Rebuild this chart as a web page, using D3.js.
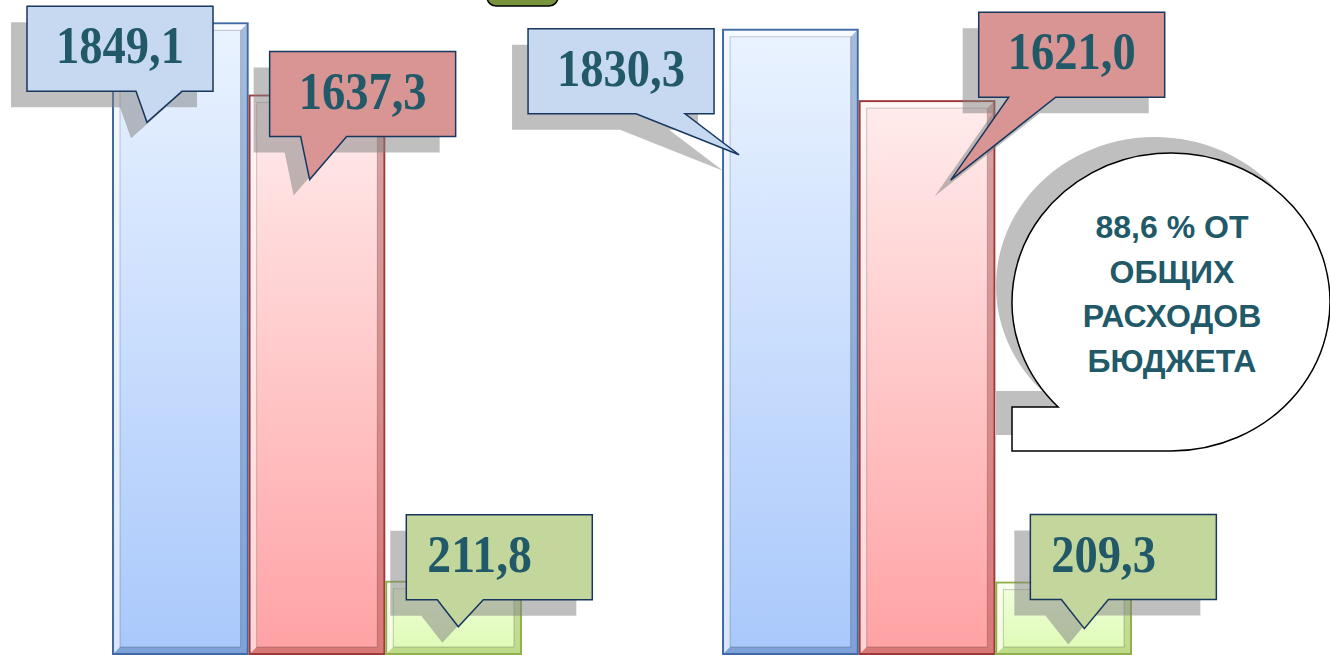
<!DOCTYPE html>
<html>
<head>
<meta charset="utf-8">
<script src="https://cdn.jsdelivr.net/npm/d3@7"></script>
<style>
  body { margin: 0; background: #fff; }
  svg { display: block; }
</style>
</head>
<body>
<div id="chart"></div>
<script>
// data
var groups = ["group1", "group2"];
var series = ["total", "social", "other"];
var totalVals = [1849.1, 1830.3];
var socialVals = [1637.3, 1621.0];
var otherVals = [211.8, 209.3];
var noteLines = ["88,6 % ОТ", "ОБЩИХ", "РАСХОДОВ", "БЮДЖЕТА"];

var W = 1330, H = 655;
var base = 654;

var svg = d3.select("#chart")
  .append("svg")
    .attr("width", W)
    .attr("height", H);

var rows = [];
groups.forEach(function(g, i) {
  rows.push({group: g, key: "total", value: totalVals[i]});
  rows.push({group: g, key: "social", value: socialVals[i]});
  rows.push({group: g, key: "other", value: otherVals[i]});
});

var x0 = d3.scaleBand()
  .domain(groups)
  .range([112, 1132])
  .paddingInner(0.328);

var x1 = d3.scaleBand()
  .domain(series)
  .range([0, x0.bandwidth()]);

var y = d3.scaleLinear()
  .domain([0, 1900])
  .range([base, 6]);

var colors = {
  total:  {top: "#eaf3ff", bot: "#a9c8fb", stroke: "#3f6aa6"},
  social: {top: "#ffecec", bot: "#ffa2a4", stroke: "#9e3a3a"},
  other:  {top: "#f2ffdc", bot: "#ddfab4", stroke: "#8fb04c"}
};

var defs = svg.append("defs");
series.forEach(function(s) {
  var gr = defs.append("linearGradient")
    .attr("id", "grad-" + s)
    .attr("x1", 0).attr("y1", 0).attr("x2", 0).attr("y2", 1);
  gr.append("stop").attr("offset", "0%").attr("stop-color", colors[s].top);
  gr.append("stop").attr("offset", "100%").attr("stop-color", colors[s].bot);
});

// bars
var bars = svg.append("g").selectAll("g")
  .data(rows)
  .enter()
  .append("g")
  .attr("transform", function(d) { return "translate(" + (x0(d.group) + x1(d.key)) + ",0)"; });

var bw = x1.bandwidth();

bars.append("rect")
  .attr("x", 1)
  .attr("y", function(d) { return y(d.value); })
  .attr("width", bw - 2)
  .attr("height", function(d) { return base - y(d.value); })
  .attr("fill", function(d) { return "url(#grad-" + d.key + ")"; })
  .attr("stroke", function(d) { return colors[d.key].stroke; })
  .attr("stroke-width", 2);

// bevel: light on top/left, dark on bottom/right
var ins = 6;
bars.append("path")
  .attr("d", function(d) {
    var t = y(d.value) + 1, b = base - 1, l = 2, r = bw - 2;
    return "M" + l + "," + b + "V" + t + "H" + r + "L" + (r - ins) + "," + (t + ins) +
      "H" + (l + ins) + "V" + (b - ins) + "Z";
  })
  .attr("fill", "#fff")
  .attr("opacity", 0.55);

bars.append("path")
  .attr("d", function(d) {
    var t = y(d.value) + 1, b = base - 1, l = 2, r = bw - 2;
    return "M" + r + "," + t + "V" + b + "H" + l + "L" + (l + ins) + "," + (b - ins) +
      "H" + (r - ins) + "V" + (t + ins) + "Z";
  })
  .attr("fill", function(d) { return colors[d.key].stroke; })
  .attr("opacity", 0.4);

bars.append("rect")
  .attr("x", 2 + ins)
  .attr("y", function(d) { return y(d.value) + 1 + ins; })
  .attr("width", bw - 4 - 2 * ins)
  .attr("height", function(d) { return base - y(d.value) - 2 - 2 * ins; })
  .attr("fill", "none")
  .attr("stroke", "#000")
  .attr("stroke-opacity", 0.2)
  .attr("stroke-width", 1);

// note bubble (ellipse callout)
var cx = 1171, cy = 302, rx = 159, ry = 149;
var ty = 407;
var tx = cx - rx * Math.sqrt(1 - Math.pow((ty - cy) / ry, 2));
var bubblePath = "M" + tx + "," + ty + "H1012V" + (cy + ry) + "H" + cx +
  "A" + rx + "," + ry + " 0 1 0 " + tx + "," + ty + "Z";

svg.append("path")
  .attr("d", bubblePath)
  .attr("transform", "translate(-16,-16)")
  .attr("fill", "#808080")
  .attr("opacity", 0.5);

svg.append("path")
  .attr("d", bubblePath)
  .attr("fill", "#fff")
  .attr("stroke", "#000")
  .attr("stroke-width", 1.5);

svg.append("g").selectAll("text")
  .data(noteLines)
  .enter()
  .append("text")
  .attr("x", 1172)
  .attr("y", function(d, i) { return 238 + i * 44.5; })
  .attr("text-anchor", "middle")
  .attr("font-family", "Arial, 'Liberation Sans', sans-serif")
  .attr("font-weight", "bold")
  .attr("font-size", 32)
  .attr("fill", "#215968")
  .text(function(d) { return d; });

// value callouts: tip offset from bar top-left, box offset from tip
var callFill = {total: "#c6d9f1", social: "#d99594", other: "#c3d69b"};
var callout = {
  "group1-total":  {tip: [35, 99],  box: [-120, -116], base: [-11, 35], align: "middle"},
  "group1-social": {tip: [61, 84],  box: [-40, -128],  base: [-9, 37],  align: "middle"},
  "group1-other":  {tip: [73, 45],  box: [-52, -112],  base: [-21, 25], align: "start"},
  "group2-total":  {tip: [17, 125], box: [-211, -126], base: [-103, -54], align: "middle"},
  "group2-social": {tip: [92, 79],  box: [28, -168],   base: [58, 105], align: "middle"},
  "group2-other":  {tip: [89, 46],  box: [-54, -114],  base: [-23, 24], align: "start"}
};
var boxW = 186, boxH = 85;

function fmt(v) { return v.toFixed(1).replace(".", ","); }

function calloutPath(d) {
  var c = callout[d.group + "-" + d.key];
  var bx = x0(d.group) + x1(d.key);
  var tipX = bx + c.tip[0], tipY = y(d.value) + c.tip[1];
  var L = tipX + c.box[0], T = tipY + c.box[1], R = L + boxW, B = T + boxH;
  return "M" + L + "," + T + "H" + R + "V" + B + "H" + (tipX + c.base[1]) +
    "L" + tipX + "," + tipY + "L" + (tipX + c.base[0]) + "," + B + "H" + L + "Z";
}

var calls = svg.append("g").selectAll("g")
  .data(rows)
  .enter()
  .append("g");

calls.append("path")
  .attr("d", calloutPath)
  .attr("transform", "translate(-16,16)")
  .attr("fill", "#808080")
  .attr("opacity", 0.5);

var callG = svg.append("g").selectAll("g")
  .data(rows)
  .enter()
  .append("g");

callG.append("path")
  .attr("d", calloutPath)
  .attr("fill", function(d) { return callFill[d.key]; })
  .attr("stroke", "#17375e")
  .attr("stroke-width", 1.5);

callG.append("text")
  .attr("x", function(d) {
    var c = callout[d.group + "-" + d.key];
    var L = x0(d.group) + x1(d.key) + c.tip[0] + c.box[0];
    return c.align === "start" ? L + 21 : L + boxW / 2;
  })
  .attr("y", function(d) {
    var c = callout[d.group + "-" + d.key];
    return y(d.value) + c.tip[1] + c.box[1] + 57;
  })
  .attr("text-anchor", function(d) { return callout[d.group + "-" + d.key].align; })
  .attr("font-family", "'Times New Roman', 'Liberation Serif', serif")
  .attr("font-weight", "bold")
  .attr("font-size", 52)
  .attr("textLength", function(d) {
    var s = fmt(d.value);
    return ((s.length - 1) * 0.5 + 0.25) * 46.5;
  })
  .attr("lengthAdjust", "spacingAndGlyphs")
  .attr("fill", "#215968")
  .text(function(d) { return fmt(d.value); });

// title box, mostly above the visible area
svg.append("rect")
  .attr("x", 487)
  .attr("y", -24)
  .attr("width", 71)
  .attr("height", 30)
  .attr("rx", 9)
  .attr("fill", "#77933c")
  .attr("stroke", "#000")
  .attr("stroke-width", 1.5);
</script>
</body>
</html>
